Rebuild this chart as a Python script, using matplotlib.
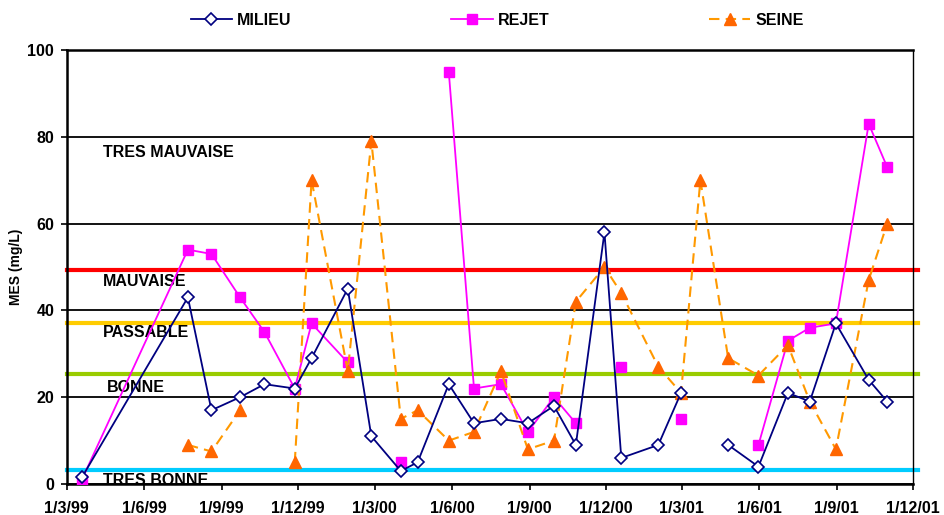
import numpy as np
import pandas as pd
import matplotlib
matplotlib.use('Agg')
import matplotlib.pyplot as plt
import matplotlib.transforms as mtransforms

plt.rcParams['font.family'] = ['Liberation Sans', 'DejaVu Sans']
plt.rcParams['font.weight'] = 'bold'

nan = np.nan

# sampling dates
dates = pd.to_datetime([
    '1999-03-19', '1999-07-23', '1999-08-20', '1999-09-23', '1999-10-22',
    '1999-11-27', '1999-12-17', '2000-01-29', '2000-02-26', '2000-04-01',
    '2000-04-21', '2000-05-28', '2000-06-27', '2000-07-29', '2000-08-30',
    '2000-09-30', '2000-10-26', '2000-11-29', '2000-12-19', '2001-02-01',
    '2001-02-28', '2001-03-23', '2001-04-25', '2001-05-31', '2001-07-05',
    '2001-07-31', '2001-08-31', '2001-10-09', '2001-10-31'])

milieu = [1.5, 43, 17, 20, 23, 22, 29, 45, 11, 3, 5, 23, 14, 15, 14,
          18, 9, 58, 6, 9, 21, nan, 9, 4, 21, 19, 37, 24, 19]
rejet = [1, 54, 53, 43, 35, 22, 37, 28, nan, 5, nan, 95, 22, 23, 12,
         20, 14, nan, 27, nan, 15, nan, nan, 9, 33, 36, 37, 83, 73]
seine = [nan, 9, 7.5, 17, nan, 5, 70, 26, 79, 15, 17, 10, 12, 26, 8,
         10, 42, 50, 44, 27, 21, 70, 29, 25, 32, 19, 8, 47, 60]

# water quality classes
class_names = ['TRES BONNE', 'BONNE', 'PASSABLE', 'MAUVAISE', 'TRES MAUVAISE']
class_limits = [3.2, 25.3, 37.2, 49.3]
class_colors = ['#00CCFF', '#99CC00', '#FFCC00', '#FF0000']
label_y = [0.8, 22.3, 34.8, 46.6, 76.4]
label_x = [0.043, 0.048, 0.043, 0.043, 0.043]

tick_dates = pd.to_datetime(['1999-03-01', '1999-06-01', '1999-09-01', '1999-12-01',
                             '2000-03-01', '2000-06-01', '2000-09-01', '2000-12-01',
                             '2001-03-01', '2001-06-01', '2001-09-01', '2001-12-01'])
tick_labels = ['1/3/99', '1/6/99', '1/9/99', '1/12/99', '1/3/00', '1/6/00',
               '1/9/00', '1/12/00', '1/3/01', '1/6/01', '1/9/01', '1/12/01']

fig = plt.figure(figsize=(9.45, 5.15), dpi=100)
ax = fig.add_axes([66.7 / 945, 1 - 484 / 515, (913.3 - 66.7) / 945, (484 - 50) / 515])

# class limits
for lim, col in zip(class_limits, class_colors):
    ax.axhline(lim, color=col, lw=3, zorder=2, xmax=1.005, clip_on=False)

for name, lx, ly in zip(class_names, label_x, label_y):
    tr = mtransforms.blended_transform_factory(ax.transAxes, ax.transData)
    ax.text(lx, ly, name, transform=tr, ha='left', va='center', fontsize=11.5,
            fontweight='bold', zorder=3)

ax.plot(dates, milieu, color='#000080', lw=1.3, marker='D', ms=6, mfc='white',
        mec='#000080', mew=1.2, label='MILIEU', zorder=5)
ax.plot(dates, rejet, color='#FF00FF', lw=1.3, marker='s', ms=7.5,
        label='REJET', zorder=4)
ax.plot(dates, seine, color='#FF9900', lw=1.5, ls='--', dashes=(5, 3), marker='^',
        ms=8.5, mfc='#FF6600', mec='#FF6600', label='SEINE', zorder=4)

ax.set_xlim(tick_dates[0], tick_dates[-1])
ax.set_xticks(tick_dates)
ax.set_xticklabels(tick_labels, fontsize=11.5, fontweight='bold')
ax.set_ylim(0, 100)
ax.set_yticks([0, 20, 40, 60, 80, 100])
ax.set_yticklabels(['0', '20', '40', '60', '80', '100'], fontsize=11.5, fontweight='bold')
ax.tick_params(axis='both', direction='out', length=4, width=1.2, color='black')
ax.tick_params(axis='x', pad=8)
ax.tick_params(axis='y', pad=5)
ax.set_ylabel('MES (mg/L)', fontsize=10, fontweight='bold', labelpad=3)

ax.yaxis.grid(True, color='black', lw=1.3, zorder=1)
ax.set_axisbelow(True)
for side in ['left', 'bottom', 'top']:
    ax.spines[side].set_linewidth(1.8)
ax.spines['right'].set_linewidth(1.0)

fig.legend(loc='center', bbox_to_anchor=(0.526, 0.961), ncol=3, frameon=False,
           fontsize=11.5, handlelength=2.6, handletextpad=0.3, columnspacing=10,
           prop={'weight': 'bold', 'size': 11.5})

fig.savefig('out.png', dpi=100)
